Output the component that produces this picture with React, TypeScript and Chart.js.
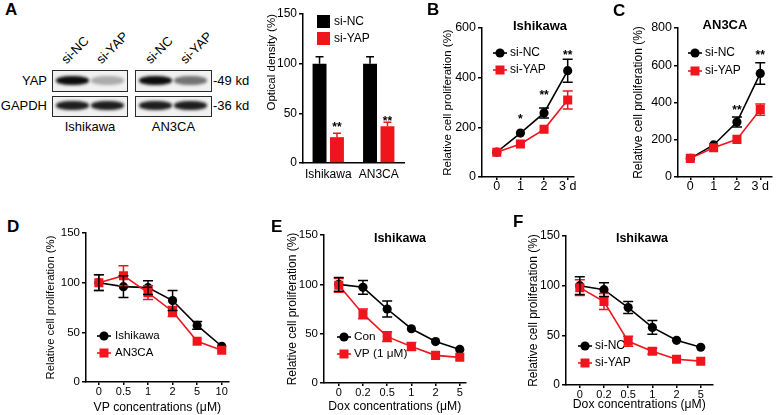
import React, { useEffect, useRef } from 'react';
import { Chart, registerables } from 'chart.js';

Chart.register(...registerables);

const FONT = '"Liberation Sans", Arial, Helvetica, sans-serif';
const BLACK = '#000000';
const RED = '#f0141c';

// ---------- Panel A: western blot ----------
const blotLanes = ['si-NC', 'si-YAP', 'si-NC', 'si-YAP'];
const blotCellLines = ['Ishikawa', 'AN3CA'];
const blotProteins = ['YAP', 'GAPDH'];
const blotSizes = ['-49 kd', '-36 kd'];
const yapBandDensity = [1.0, 0.3, 1.0, 0.55];
const gapdhBandDensity = [0.92, 0.92, 0.92, 0.92];

// ---------- Panel A: optical density bar chart ----------
const barCategories = ['Ishikawa', 'AN3CA'];
const barNC = [100, 100];
const barNCErr = [7, 7];
const barYAP = [26, 37];
const barYAPErr = [4, 4];
const barStarY = [39, 45];
const barYTicks = [0, 50, 100, 150];

// ---------- Panel B: Ishikawa proliferation ----------
const dayLabels = ['0', '1', '2', '3 d'];
const bNC = [100, 177, 258, 428];
const bNCErr = [0, 0, 20, 46];
const bYAP = [100, 133, 192, 310];
const bYAPErr = [0, 0, 0, 36];
const bStarY = [0, 246, 342, 503];
const bStarText = ['', '*', '**', '**'];
const bYTicks = [0, 200, 400, 600];

// ---------- Panel C: AN3CA proliferation ----------
const cNC = [100, 172, 295, 556];
const cNCErr = [0, 0, 27, 58];
const cYAP = [100, 157, 202, 362];
const cYAPErr = [0, 0, 0, 30];
const cStarY = [0, 0, 376, 671];
const cStarText = ['', '', '**', '**'];
const cYTicks = [0, 200, 400, 600, 800];

// ---------- Panel D: VP dose ----------
const vpLabels = ['0', '0.5', '1', '2', '5', '10'];
const dIshikawa = [100, 96, 95, 82, 57, 36];
const dIshikawaErr = [8, 11, 7, 10, 4, 0];
const dAN3CA = [100, 107, 90, 71, 41, 32];
const dAN3CAErr = [8, 10, 7, 5, 0, 0];

// ---------- Panel E: Dox dose, Con vs VP ----------
const doxLabels = ['0', '0.2', '0.5', '1', '2', '5'];
const eCon = [100, 97, 75, 55, 42, 34];
const eConErr = [7, 7, 8, 0, 0, 0];
const eVP = [99, 70, 47, 37, 28, 26];
const eVPErr = [7, 5, 5, 4, 0, 0];

// ---------- Panel F: Dox dose, si-NC vs si-YAP ----------
const fNC = [100, 96, 78, 58, 45, 38];
const fNCErr = [9, 7, 6, 7, 0, 0];
const fYAP = [98, 84, 44, 34, 26, 24];
const fYAPErr = [8, 8, 5, 3, 0, 0];

const pctTicks = [0, 50, 100, 150];

// ---------- plugin: error bars, stars, inner title, legend ----------
const extrasPlugin = {
  id: 'extras',
  afterDatasetsDraw(chart: any, _args: any, opts: any) {
    const { ctx, chartArea } = chart;
    const ys = chart.scales.y;
    ctx.save();
    for (let di = chart.data.datasets.length - 1; di >= 0; di--) {
      const ds = chart.data.datasets[di];
      const errs: number[] = ds.errors || [];
      const meta = chart.getDatasetMeta(di);
      ctx.strokeStyle = ds.borderColor || ds.backgroundColor;
      ctx.lineWidth = 1.5;
      meta.data.forEach((el: any, i: number) => {
        const e = errs[i];
        if (!e) return;
        const v = meta.controller.getParsed(i).y;
        const x = el.x;
        const yt = ys.getPixelForValue(v + e);
        const yb = opts.upOnly ? ys.getPixelForValue(v) : ys.getPixelForValue(v - e);
        const cw = opts.capHalf || 5;
        ctx.beginPath();
        ctx.moveTo(x, yt);
        ctx.lineTo(x, yb);
        ctx.moveTo(x - cw, yt);
        ctx.lineTo(x + cw, yt);
        if (!opts.upOnly) {
          ctx.moveTo(x - cw, yb);
          ctx.lineTo(x + cw, yb);
        }
        ctx.stroke();
      });
    }
    // significance stars
    if (opts.stars) {
      const s = opts.stars;
      const meta = chart.getDatasetMeta(s.ds);
      ctx.fillStyle = BLACK;
      ctx.font = `bold ${s.size}px ${FONT}`;
      ctx.textAlign = 'center';
      ctx.textBaseline = 'alphabetic';
      s.text.forEach((t: string, i: number) => {
        if (!t) return;
        const x = meta.data[i].x;
        const y = ys.getPixelForValue(s.y[i]);
        ctx.fillText(t, x, y + s.size * 0.56);
      });
    }
    // inner title
    if (opts.title) {
      const t = opts.title;
      ctx.fillStyle = BLACK;
      ctx.font = `bold ${t.size}px ${FONT}`;
      ctx.textAlign = 'center';
      ctx.textBaseline = 'middle';
      ctx.fillText(t.text, chartArea.left + t.dx, chartArea.top + t.dy);
    }
    // legend
    if (opts.legend) {
      const L = opts.legend;
      chart.data.datasets.forEach((ds: any, di: number) => {
        const cx = chartArea.left + L.dx;
        const cy = chartArea.top + L.dy + di * L.gap;
        if (L.kind === 'box') {
          ctx.fillStyle = ds.backgroundColor;
          ctx.fillRect(cx - 6.5, cy - 6.5, 13, 13);
        } else {
          ctx.strokeStyle = ds.borderColor;
          ctx.lineWidth = 1.6;
          ctx.beginPath();
          ctx.moveTo(cx - 7, cy);
          ctx.lineTo(cx + 7, cy);
          ctx.stroke();
          ctx.fillStyle = ds.borderColor;
          if (ds.pointStyle === 'rect') {
            ctx.fillRect(cx - 4.5, cy - 4.5, 9, 9);
          } else {
            ctx.beginPath();
            ctx.arc(cx, cy, 4.6, 0, Math.PI * 2);
            ctx.fill();
          }
        }
        ctx.fillStyle = BLACK;
        ctx.font = `${L.size}px ${FONT}`;
        ctx.textAlign = 'left';
        ctx.textBaseline = 'middle';
        ctx.fillText(ds.label, cx + L.textGap, cy);
      });
    }
    ctx.restore();
  },
};

type Box = { l: number; t: number; w: number; h: number };

function ChartCanvas({ box, make }: { box: Box; make: () => any }) {
  const ref = useRef<HTMLCanvasElement>(null);
  useEffect(() => {
    const chart = new Chart(ref.current as HTMLCanvasElement, make());
    return () => chart.destroy();
  }, []);
  return (
    <canvas
      ref={ref}
      width={box.w}
      height={box.h}
      style={{ position: 'absolute', left: box.l, top: box.t, width: box.w, height: box.h }}
    />
  );
}

function yAxis(p: any) {
  return {
    type: 'linear',
    min: 0,
    max: p.yMax,
    afterBuildTicks: (s: any) => {
      s.ticks = p.yTicks.map((v: number) => ({ value: v }));
    },
    afterFit: (s: any) => {
      s.width = p.yW;
    },
    ticks: { color: BLACK, font: { size: p.tickSize, family: FONT }, padding: 2 },
    grid: { drawOnChartArea: false, drawTicks: true, tickLength: 4, color: BLACK, lineWidth: 1.5 },
    border: { display: true, color: BLACK, width: 1.5 },
    title: {
      display: true,
      text: p.yTitle,
      color: BLACK,
      font: { size: p.yTitleSize, family: FONT },
      padding: 0,
      align: p.yTitleAlign || 'center',
    },
  };
}

type Series = { label: string; values: number[]; errors: number[]; color: string; style: string };

function makeLine(p: any) {
  return () => ({
    type: 'line',
    data: {
      datasets: p.series.map((s: Series) => ({
        label: s.label,
        data: s.values.map((v, i) => ({ x: i, y: v })),
        errors: s.errors,
        borderColor: s.color,
        backgroundColor: s.color,
        borderWidth: 1.6,
        pointStyle: s.style,
        pointRadius: s.style === 'rect' ? 6.4 : 4.6,
        pointBorderWidth: 0,
        pointBackgroundColor: s.color,
        tension: 0,
        order: s.style === 'rect' ? 0 : 1,
      })),
    },
    options: {
      animation: false,
      responsive: false,
      devicePixelRatio: 1,
      layout: { padding: { top: p.pad.top, right: p.pad.right, left: 0, bottom: 0 } },
      scales: {
        x: {
          type: 'linear',
          min: p.xMin,
          max: p.xMax,
          afterBuildTicks: (s: any) => {
            s.ticks = p.xLabels.map((_: string, i: number) => ({ value: i }));
          },
          afterFit: (s: any) => {
            s.height = p.xH;
          },
          ticks: {
            color: BLACK,
            font: { size: p.xTickSize || p.tickSize, family: FONT },
            padding: p.xTickPad,
            autoSkip: false,
            maxRotation: 0,
            callback: (v: number) => p.xLabels[v],
          },
          grid: { drawOnChartArea: false, drawTicks: true, tickLength: 3, color: BLACK, lineWidth: 1.5 },
          border: { display: true, color: BLACK, width: 1.5 },
          title: p.xTitle
            ? { display: true, text: p.xTitle, color: BLACK, font: { size: p.xTitleSize, family: FONT }, padding: 0 }
            : { display: false },
        },
        y: yAxis(p),
      },
      plugins: {
        legend: { display: false },
        tooltip: { enabled: false },
        extras: {
          capHalf: 5,
          stars: p.stars,
          title: p.title,
          legend: p.legend,
        },
      },
    },
    plugins: [extrasPlugin],
  });
}

const makeBar = () => ({
  type: 'bar',
  data: {
    labels: barCategories,
    datasets: [
      { label: 'si-NC', data: barNC, errors: barNCErr, backgroundColor: BLACK, borderColor: BLACK },
      { label: 'si-YAP', data: barYAP, errors: barYAPErr, backgroundColor: RED, borderColor: RED },
    ],
  },
  options: {
    animation: false,
    responsive: false,
    devicePixelRatio: 1,
    categoryPercentage: 0.69,
    barPercentage: 0.8,
    layout: { padding: { top: 10, right: 4, left: 0, bottom: 0 } },
    scales: {
      x: {
        type: 'category',
        afterFit: (s: any) => {
          s.height = 22;
        },
        ticks: { color: BLACK, font: { size: 12, family: FONT }, padding: 4, autoSkip: false, maxRotation: 0 },
        grid: { display: false, drawTicks: false },
        border: { display: true, color: BLACK, width: 1.5 },
      },
      y: yAxis({
        yMax: 150,
        yTicks: barYTicks,
        yW: 38,
        tickSize: 12,
        yTitle: 'Optical density (%)',
        yTitleSize: 11.5,
        yTitleAlign: 'end',
      }),
    },
    plugins: {
      legend: { display: false },
      tooltip: { enabled: false },
      extras: {
        upOnly: true,
        capHalf: 4,
        stars: { ds: 1, y: barStarY, text: ['**', '**'], size: 12 },
        legend: { kind: 'box', dx: 20.5, dy: 7.5, gap: 17, textGap: 10.5, size: 12 },
      },
    },
  },
  plugins: [extrasPlugin],
});

const panelB = makeLine({
  pad: { top: 18, right: 5 },
  yW: 41,
  xH: 25,
  xMin: -0.625,
  xMax: 3.25,
  xLabels: dayLabels,
  xTickPad: -1,
  yMax: 600,
  yTicks: bYTicks,
  tickSize: 12.5,
  yTitle: 'Relative cell proliferation (%)',
  yTitleSize: 11.5,
  series: [
    { label: 'si-NC', values: bNC, errors: bNCErr, color: BLACK, style: 'circle' },
    { label: 'si-YAP', values: bYAP, errors: bYAPErr, color: RED, style: 'rect' },
  ],
  stars: { ds: 0, y: bStarY, text: bStarText, size: 12 },
  title: { text: 'Ishikawa', dx: 58, dy: -2, size: 13 },
  legend: { kind: 'line', dx: 18, dy: 25, gap: 17, textGap: 10, size: 12 },
});

const panelC = makeLine({
  pad: { top: 18, right: 1 },
  yW: 47,
  xH: 25,
  xMin: -0.527,
  xMax: 3.486,
  xLabels: dayLabels,
  xTickPad: -1,
  yMax: 800,
  yTicks: cYTicks,
  tickSize: 12.5,
  yTitle: 'Relative cell proliferation (%)',
  yTitleSize: 12,
  series: [
    { label: 'si-NC', values: cNC, errors: cNCErr, color: BLACK, style: 'circle' },
    { label: 'si-YAP', values: cYAP, errors: cYAPErr, color: RED, style: 'rect' },
  ],
  stars: { ds: 0, y: cStarY, text: cStarText, size: 12 },
  title: { text: 'AN3CA', dx: 47, dy: -3, size: 13 },
  legend: { kind: 'line', dx: 17, dy: 25, gap: 18, textGap: 10, size: 12 },
});

const panelD = makeLine({
  pad: { top: 11, right: 5 },
  yW: 42,
  xH: 33,
  xMin: -0.524,
  xMax: 5.28,
  xLabels: vpLabels,
  xTickPad: 0,
  xTickSize: 11,
  yMax: 150,
  yTicks: pctTicks,
  tickSize: 11.5,
  yTitle: 'Relative cell proliferation (%)',
  yTitleSize: 11.3,
  xTitle: 'VP concentrations (\u03bcM)',
  xTitleSize: 12.2,
  series: [
    { label: 'Ishikawa', values: dIshikawa, errors: dIshikawaErr, color: BLACK, style: 'circle' },
    { label: 'AN3CA', values: dAN3CA, errors: dAN3CAErr, color: RED, style: 'rect' },
  ],
  legend: { kind: 'line', dx: 18, dy: 103, gap: 17, textGap: 11, size: 11.5 },
});

const panelE = makeLine({
  pad: { top: 13, right: 4 },
  yW: 39,
  xH: 31,
  xMin: -0.61,
  xMax: 5.24,
  xLabels: doxLabels,
  xTickPad: 0,
  xTickSize: 11,
  yMax: 150,
  yTicks: pctTicks,
  tickSize: 11.5,
  yTitle: 'Relative cell proliferation (%)',
  yTitleSize: 12,
  xTitle: 'Dox concentrations (\u03bcM)',
  xTitleSize: 12.2,
  series: [
    { label: 'Con', values: eCon, errors: eConErr, color: BLACK, style: 'circle' },
    { label: 'VP (1 \u03bcM)', values: eVP, errors: eVPErr, color: RED, style: 'rect' },
  ],
  title: { text: 'Ishikawa', dx: 76, dy: 4, size: 12.5 },
  legend: { kind: 'line', dx: 20, dy: 102, gap: 17, textGap: 10, size: 11.8 },
});

const panelF = makeLine({
  pad: { top: 14, right: 4 },
  yW: 40,
  xH: 27,
  xMin: -0.57,
  xMax: 5.49,
  xLabels: doxLabels,
  xTickPad: 0,
  xTickSize: 11,
  yMax: 150,
  yTicks: pctTicks,
  tickSize: 12,
  yTitle: 'Relative cell proliferation (%)',
  yTitleSize: 12,
  xTitle: 'Dox concentrations (\u03bcM)',
  xTitleSize: 12.2,
  series: [
    { label: 'si-NC', values: fNC, errors: fNCErr, color: BLACK, style: 'circle' },
    { label: 'si-YAP', values: fYAP, errors: fYAPErr, color: RED, style: 'rect' },
  ],
  title: { text: 'Ishikawa', dx: 76, dy: 3, size: 12.5 },
  legend: { kind: 'line', dx: 19, dy: 110, gap: 17, textGap: 10, size: 12 },
});

const txt = (extra: any): any => ({
  position: 'absolute',
  fontFamily: FONT,
  fontSize: 13,
  lineHeight: '13px',
  color: BLACK,
  whiteSpace: 'nowrap',
  ...extra,
});

function Blot() {
  const boxes = [
    { left: 52, width: 76 },
    { left: 135, width: 77 },
  ];
  const rows = [
    { top: 70, height: 22, dens: yapBandDensity },
    { top: 96, height: 21, dens: gapdhBandDensity },
  ];
  const laneX = [68, 103, 152, 187];
  const els: any[] = [];
  rows.forEach((r, ri) => {
    boxes.forEach((b, bi) => {
      els.push(
        <div
          key={`box${ri}${bi}`}
          style={{
            position: 'absolute',
            left: b.left,
            top: r.top,
            width: b.width,
            height: r.height,
            boxSizing: 'border-box',
            border: '1.5px solid #2a2a2a',
            background: '#f1f1f1',
            overflow: 'hidden',
          }}
        >
          {[0, 1].map((j) => {
            const d = r.dens[bi * 2 + j];
            return (
              <div
                key={j}
                style={{
                  position: 'absolute',
                  left: 3 + j * 35,
                  top: r.height / 2 - 6.5,
                  width: 33,
                  height: 9,
                  borderRadius: '45%',
                  background: `rgba(12,12,12,${d})`,
                  filter: 'blur(1.6px)',
                }}
              />
            );
          })}
        </div>
      );
    });
    els.push(
      <div key={`p${ri}`} style={txt({ left: 0, width: 47, textAlign: 'right', top: r.top + r.height / 2 - 7.5 })}>
        {blotProteins[ri]}
      </div>
    );
    els.push(
      <div key={`s${ri}`} style={txt({ left: 213, top: r.top + r.height / 2 - 7.5 })}>
        {blotSizes[ri]}
      </div>
    );
  });
  blotLanes.forEach((lab, i) => {
    els.push(
      <div
        key={`l${i}`}
        style={txt({
          left: laneX[i],
          top: 53,
          transform: 'rotate(-45deg)',
          transformOrigin: 'left bottom',
        })}
      >
        {lab}
      </div>
    );
  });
  blotCellLines.forEach((c, i) => {
    const b = boxes[i];
    els.push(
      <div key={`c${i}`} style={txt({ left: b.left - 10, width: b.width + 20, textAlign: 'center', top: 120 })}>
        {c}
      </div>
    );
  });
  return <>{els}</>;
}

const letter = (ch: string, left: number, top: number) => (
  <div
    key={ch}
    style={{
      position: 'absolute',
      left,
      top,
      fontFamily: FONT,
      fontWeight: 'bold',
      fontSize: 17,
      lineHeight: '17px',
      color: BLACK,
    }}
  >
    {ch}
  </div>
);

export default function App() {
  return (
    <div
      style={{
        position: 'absolute',
        left: 0,
        top: 0,
        width: 778,
        height: 415,
        background: '#ffffff',
        overflow: 'hidden',
      }}
    >
      <Blot />
      <ChartCanvas box={{ l: 265, t: 4, w: 143, h: 181 }} make={makeBar} />
      <ChartCanvas box={{ l: 441, t: 10, w: 139, h: 192 }} make={panelB} />
      <ChartCanvas box={{ l: 631, t: 10, w: 147, h: 192 }} make={panelC} />
      <ChartCanvas box={{ l: 44, t: 222, w: 191, h: 193 }} make={panelD} />
      <ChartCanvas box={{ l: 285, t: 222, w: 187, h: 192 }} make={panelE} />
      <ChartCanvas box={{ l: 526, t: 222, w: 193, h: 190 }} make={panelF} />
      {letter('A', 5, 1)}
      {letter('B', 427, 1)}
      {letter('C', 613, 2)}
      {letter('D', 7, 218)}
      {letter('E', 271, 218)}
      {letter('F', 513, 213)}
    </div>
  );
}
